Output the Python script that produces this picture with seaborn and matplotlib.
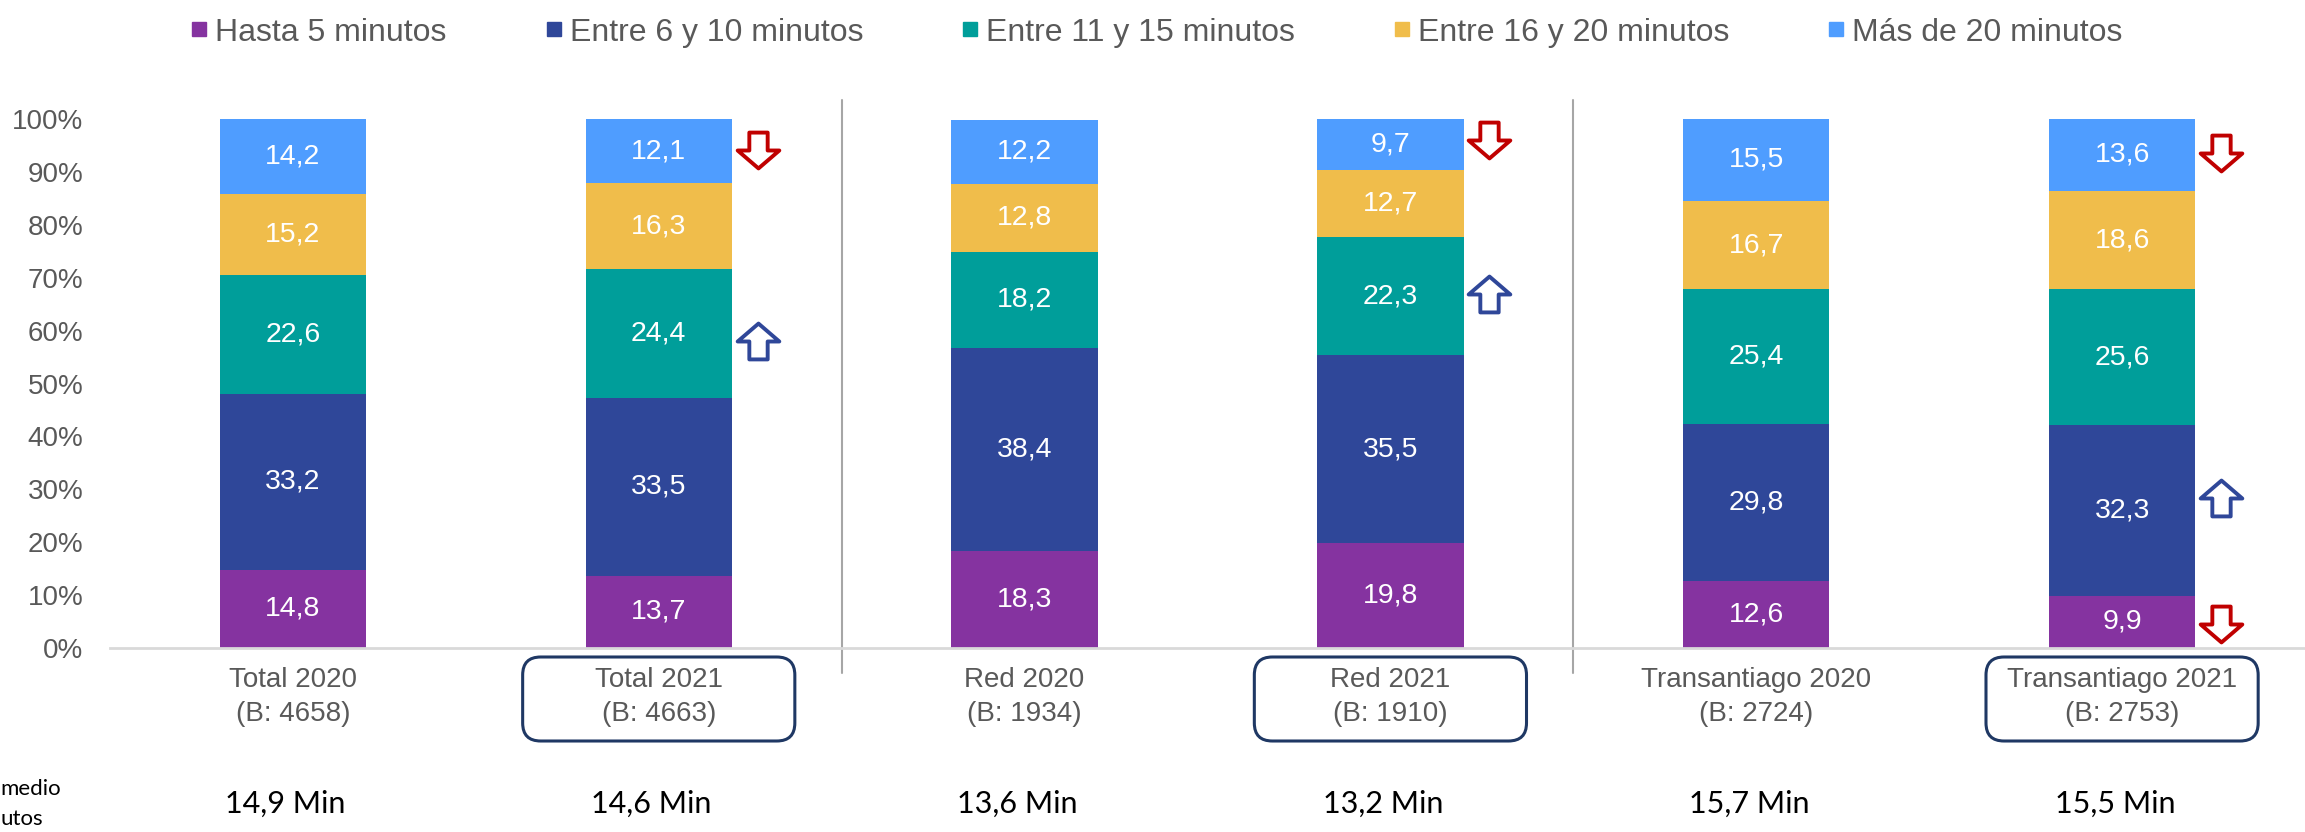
import matplotlib
matplotlib.use("Agg")
import numpy as np
import pandas as pd
import matplotlib.pyplot as plt
import seaborn as sns
from matplotlib.lines import Line2D
from matplotlib.path import Path
from matplotlib.patches import FancyBboxPatch
from matplotlib.transforms import IdentityTransform, blended_transform_factory

# datos (porcentajes, de abajo hacia arriba)
categorias = ["Total 2020", "Total 2021", "Red 2020", "Red 2021",
              "Transantiago 2020", "Transantiago 2021"]
bases = ["(B: 4658)", "(B: 4663)", "(B: 1934)", "(B: 1910)", "(B: 2724)", "(B: 2753)"]
tramos = ["Hasta 5 minutos", "Entre 6 y 10 minutos", "Entre 11 y 15 minutos",
          "Entre 16 y 20 minutos", "Más de 20 minutos"]
hasta_5 = [14.8, 13.7, 18.3, 19.8, 12.6, 9.9]
entre_6_10 = [33.2, 33.5, 38.4, 35.5, 29.8, 32.3]
entre_11_15 = [22.6, 24.4, 18.2, 22.3, 25.4, 25.6]
entre_16_20 = [15.2, 16.3, 12.8, 12.7, 16.7, 18.6]
mas_20 = [14.2, 12.1, 12.2, 9.7, 15.5, 13.6]
promedio = ["14,9 Min", "14,6 Min", "13,6 Min", "13,2 Min", "15,7 Min", "15,5 Min"]
destacadas = ["Total 2021", "Red 2021", "Transantiago 2021"]

# flechas: (categoria, tramo, direccion)
flechas = [("Total 2021", "Más de 20 minutos", "down"),
           ("Total 2021", "Entre 11 y 15 minutos", "up"),
           ("Red 2021", "Más de 20 minutos", "down"),
           ("Red 2021", "Entre 11 y 15 minutos", "up"),
           ("Transantiago 2021", "Más de 20 minutos", "down"),
           ("Transantiago 2021", "Entre 6 y 10 minutos", "up"),
           ("Transantiago 2021", "Hasta 5 minutos", "down")]

colores = ["#8533A0", "#2F4799", "#009E9A", "#F0BD4B", "#4F9DFF"]
gris = "#595959"

sns.set_style("white")
plt.rcParams["font.family"] = ["Liberation Sans", "DejaVu Sans"]

df = pd.DataFrame([hasta_5, entre_6_10, entre_11_15, entre_16_20, mas_20],
                  index=tramos, columns=categorias).T / 100
acum = df.cumsum(axis=1)
base_acum = acum - df

fig = plt.figure(figsize=(23.05, 8.32), dpi=100)
ax = fig.add_axes([110 / 2305, 184 / 832, 2195 / 2305, 529 / 832])

# barras apiladas: se dibuja de la más alta a la más baja
for k in range(len(tramos) - 1, -1, -1):
    sns.barplot(x=categorias, y=acum[tramos[k]].values, color=colores[k],
                width=0.4, order=categorias, ax=ax, linewidth=0, saturation=1)

for i, cat in enumerate(categorias):
    for k, t in enumerate(tramos):
        v = df.loc[cat, t]
        ax.text(i, base_acum.loc[cat, t] + v / 2, f"{v * 100:.1f}".replace(".", ","),
                ha="center", va="center", color="white", fontsize=20.5)

ax.set_xlim(-0.5, len(categorias) - 0.5)
ax.set_ylim(0, 1)
ax.set_yticks(np.arange(0, 1.01, 0.1))
ax.set_yticklabels([f"{int(round(v * 100))}%" for v in np.arange(0, 1.01, 0.1)],
                   fontsize=20, color=gris)
ax.set_xticks(range(len(categorias)))
ax.set_xticklabels([f"{c}\n{b}" for c, b in zip(categorias, bases)],
                   fontsize=20, color=gris, linespacing=1.4)
ax.tick_params(axis="x", length=0, pad=14)
ax.tick_params(axis="y", length=0, pad=19)
for s in ["top", "right", "left"]:
    ax.spines[s].set_visible(False)
ax.spines["bottom"].set_color("#D9D9D9")
ax.spines["bottom"].set_linewidth(2)
ax.set_xlabel("")
ax.set_ylabel("")

# separadores verticales
for xs in [1.5, 3.5]:
    ax.plot([xs, xs], [-0.047, 1.035], color="#A6A6A6", lw=1.5, clip_on=False)

# flechas
flecha_abajo = Path([(-0.22, 0.43), (0.22, 0.43), (0.22, 0.0), (0.5, 0.0),
                     (0.0, -0.43), (-0.5, 0.0), (-0.22, 0.0), (-0.22, 0.43)],
                    closed=True)
flecha_arriba = Path([(x, -y) for x, y in flecha_abajo.vertices], closed=True)
pos_y = {("Total 2021", "Más de 20 minutos"): 0.941,
         ("Total 2021", "Entre 11 y 15 minutos"): 0.58,
         ("Red 2021", "Más de 20 minutos"): 0.96,
         ("Red 2021", "Entre 11 y 15 minutos"): 0.669,
         ("Transantiago 2021", "Más de 20 minutos"): 0.936,
         ("Transantiago 2021", "Entre 6 y 10 minutos"): 0.284,
         ("Transantiago 2021", "Hasta 5 minutos"): 0.045}
for cat, t, d in flechas:
    i = categorias.index(cat)
    ax.scatter([i + 0.27], [pos_y[(cat, t)]],
               marker=flecha_abajo if d == "down" else flecha_arriba,
               s=30 ** 2, facecolor="white",
               edgecolor="#C00000" if d == "down" else "#2F4799",
               linewidth=2.8, clip_on=False, zorder=5)

# cajas redondeadas en las categorías 2021
fig.canvas.draw()
for cat in destacadas:
    i = categorias.index(cat)
    x0, _ = ax.transData.transform((i - 0.372, 0))
    x1, _ = ax.transData.transform((i + 0.372, 0))
    y_top = 832 - 657
    y_bot = 832 - 741
    box = FancyBboxPatch((x0, y_bot), x1 - x0, y_top - y_bot,
                         boxstyle="round,pad=0,rounding_size=18",
                         transform=IdentityTransform(), facecolor="none",
                         edgecolor="#1F3864", linewidth=2.2)
    fig.add_artist(box)

# promedio en minutos
trans = blended_transform_factory(ax.transData, fig.transFigure)
for i, p in enumerate(promedio):
    fig.text(i - 0.02, 0.034, p, transform=trans, ha="center", va="center",
             fontsize=22, family=["Lato", "DejaVu Sans"], color="black")
fig.text(0, 0.052, "medio", ha="left", va="center", fontsize=16,
         family=["Lato", "DejaVu Sans"], color="black")
fig.text(0, 0.016, "utos", ha="left", va="center", fontsize=16,
         family=["Lato", "DejaVu Sans"], color="black")

# leyenda
handles = [Line2D([], [], marker="s", linestyle="none", markersize=10,
                  markerfacecolor=c, markeredgecolor=c) for c in colores]
fig.legend(handles, tramos, loc="upper center", bbox_to_anchor=(0.502, 1.0),
           ncol=5, frameon=False, fontsize=23, labelcolor=gris,
           handlelength=0.5, handletextpad=0.25, columnspacing=3.1,
           borderpad=0.05)

fig.savefig("out.png", dpi=100)
